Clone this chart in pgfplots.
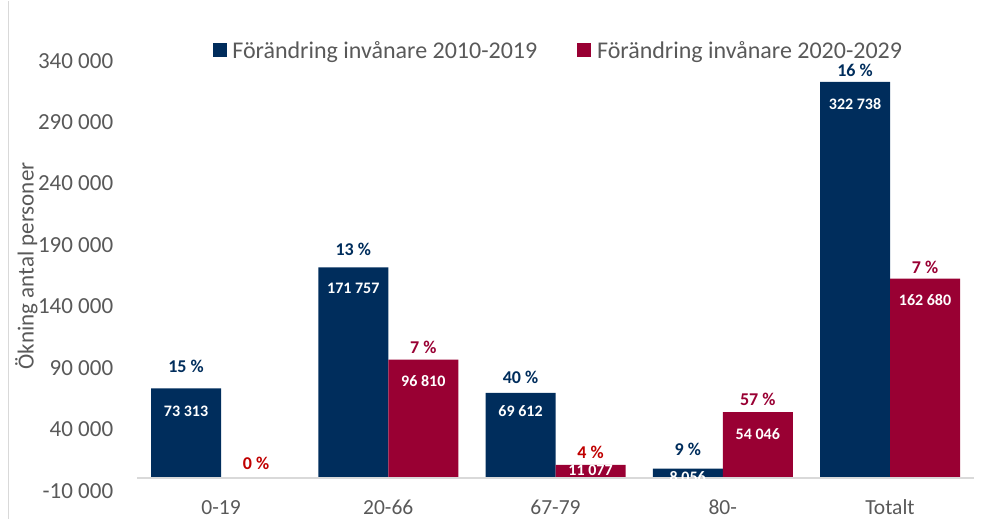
\documentclass[border=0pt]{standalone}
\usepackage{fontspec}
\setmainfont{Carlito}
\usepackage{pgfplots}
\usepackage{pgfplotstable}
\pgfplotsset{compat=1.18}
\definecolor{navy}{HTML}{002D5C}
\definecolor{crimson}{HTML}{990033}
\definecolor{brightred}{HTML}{C00000}
\definecolor{txtgray}{HTML}{595959}
\definecolor{axgray}{HTML}{D9D9D9}

% x value label valshift pct pctshift
\pgfplotstableread{
x y lab vs pct ps
0 73313 {73 313} -28.1 15 16.0
1 171757 {171 757} -26.7 13 12.0
2 69612 {69 612} -24.1 40 9.3
3 8056 {8 056} -14.1 9 12.3
4 322738 {322 738} -28.1 16 5.3
}\seriesA
\pgfplotstableread{
x y lab vs pct ps
0 0 {0} 0 0 9.0
1 96810 {96 810} -27.5 7 5.3
2 11077 {11 077} -11.1 4 6.3
3 54046 {54 046} -28.1 57 6.3
4 162680 {162 680} -27.1 7 4.3
}\seriesB

\begin{document}
\begin{tikzpicture}
\begin{axis}[
  scale only axis, width=836.25pt, height=430pt,
  xmin=-0.5, xmax=4.5, ymin=-10000, ymax=340000,
  clip=false, scaled y ticks=false,
  axis line style={draw=none}, tick style={draw=none},
  xtick={0,1,2,3,4}, xticklabels={0-19,20-66,67-79,80-,Totalt},
  ytick={-10000,40000,90000,140000,190000,240000,290000,340000},
  yticklabels={-10 000,40 000,90 000,140 000,190 000,240 000,290 000,340 000},
  xticklabel style={font=\fontsize{21.5}{25}\selectfont, text=txtgray, anchor=base, inner sep=0pt, yshift=-23.3pt},
  yticklabel style={font=\fontsize{23}{27}\selectfont, text=txtgray, anchor=east, inner sep=0pt, xshift=-24pt},
  ylabel={Ökning antal personer},
  every axis y label/.style={at={(axis description cs:-0.1327,0.523)}, rotate=90, anchor=center, font=\fontsize{23}{27}\selectfont, text=txtgray},
  legend columns=2,
  legend style={draw=none, fill=none, at={(axis description cs:0.5022,1.0233)}, anchor=center,
    font=\fontsize{24}{28}\selectfont, text=txtgray, inner sep=0pt, nodes={inner sep=0pt},
    /tikz/column 1/.style={column sep=5.7pt},
    /tikz/column 2/.style={column sep=40pt},
    /tikz/column 3/.style={column sep=5.7pt}},
]
% bars
\addplot[ybar, bar width=0.4185, bar shift=-0.20925, fill=navy, draw=none,
  legend image code/.code={\fill[navy] (0pt,-6pt) rectangle (14pt,8pt);}]
  table[x=x, y=y] {\seriesA};
\addlegendentry{Förändring invånare 2010-2019}
\addplot[ybar, bar width=0.4185, bar shift=0.20925, fill=crimson, draw=none,
  legend image code/.code={\fill[crimson] (0pt,-6pt) rectangle (14pt,8pt);}]
  table[x=x, y=y] {\seriesB};
\addlegendentry{Förändring invånare 2020-2029}
% zero line
\draw[axgray, line width=2pt] (axis cs:-0.5,0) -- (axis cs:4.5,0);
% value labels inside bars
\addplot[ybar, bar width=0.4185, bar shift=-0.20925, draw=none, fill=none, forget plot,
  point meta=explicit symbolic, nodes near coords,
  visualization depends on={\thisrow{vs} \as \vshift},
  nodes near coords style={text=white, font=\bfseries\fontsize{16}{19}\selectfont, inner sep=0pt, xshift=-35pt, yshift=\vshift pt}]
  table[x=x, y=y, meta=lab] {\seriesA};
\addplot[ybar, bar width=0.4185, bar shift=0.20925, draw=none, fill=none, forget plot,
  skip coords between index={0}{1},
  point meta=explicit symbolic, nodes near coords,
  visualization depends on={\thisrow{vs} \as \vshift},
  nodes near coords style={text=white, font=\bfseries\fontsize{16}{19}\selectfont, inner sep=0pt, xshift=35pt, yshift=\vshift pt}]
  table[x=x, y=y, meta=lab] {\seriesB};
% percentage labels above bars
\addplot[ybar, bar width=0.4185, bar shift=-0.20925, draw=none, fill=none, forget plot,
  point meta=explicit symbolic, nodes near coords={\pgfplotspointmeta~\%},
  visualization depends on={\thisrow{ps} \as \pshift},
  nodes near coords style={text=navy, font=\bfseries\fontsize{18}{21}\selectfont, inner sep=0pt, xshift=-35pt, yshift=\pshift pt}]
  table[x=x, y=y, meta=pct] {\seriesA};
\addplot[ybar, bar width=0.4185, bar shift=0.20925, draw=none, fill=none, forget plot,
  skip coords between index={0}{1}, skip coords between index={2}{3},
  point meta=explicit symbolic, nodes near coords={\pgfplotspointmeta~\%},
  visualization depends on={\thisrow{ps} \as \pshift},
  nodes near coords style={text=crimson, font=\bfseries\fontsize{18}{21}\selectfont, inner sep=0pt, xshift=35pt, yshift=\pshift pt}]
  table[x=x, y=y, meta=pct] {\seriesB};
\addplot[ybar, bar width=0.4185, bar shift=0.20925, draw=none, fill=none, forget plot,
  skip coords between index={1}{2}, skip coords between index={3}{5},
  point meta=explicit symbolic, nodes near coords={\pgfplotspointmeta~\%},
  visualization depends on={\thisrow{ps} \as \pshift},
  nodes near coords style={text=brightred, font=\bfseries\fontsize{18}{21}\selectfont, inner sep=0pt, xshift=35pt, yshift=\pshift pt}]
  table[x=x, y=y, meta=pct] {\seriesB};
% frame line on the left and bounding box
\draw[axgray, line width=1.5pt] (rel axis cs:0,0) ++(-129pt,-28pt) -- ++(0pt,518pt);
\path (rel axis cs:0,0) ++(-137.4pt,-28pt) rectangle ++(987pt,518pt);
\end{axis}
\end{tikzpicture}
\end{document}
